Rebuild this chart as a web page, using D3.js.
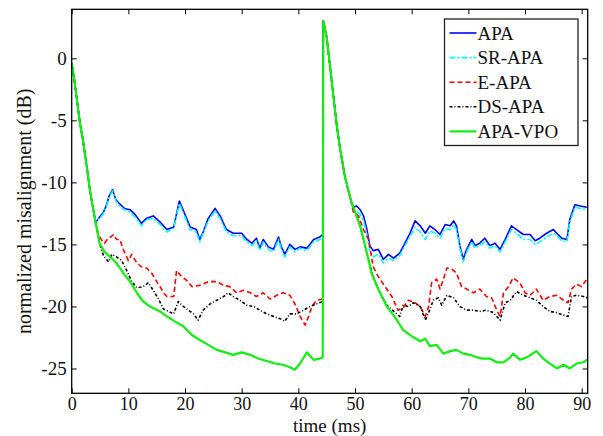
<!DOCTYPE html>
<html>
<head>
<meta charset="utf-8">
<script src="https://cdn.jsdelivr.net/npm/d3@7"></script>
<style>
  body { margin: 0; background: #fff; }
  svg text { font-family: "Liberation Serif", "Times New Roman", serif; fill: #111; }
</style>
</head>
<body>
<div id="chart"></div>
<script>
// shared pieces: every algorithm starts (and restarts after the echo-path change) the same way
const headPts = [[0,-0.4],[0.45,-1.7],[1.05,-3.8],[1.45,-5.2],[1.95,-6.5],[2.4,-7.9],[2.8,-9.2],[3.2,-10.6],[3.7,-11.9],[4.2,-13.2]];
const restartPts = [[44.4,3.0],[45.0,1.7],[45.6,-0.7],[46.2,-3.1],[46.8,-5.5],[47.4,-7.4],[48.2,-9.5],[48.8,-10.6],[49.3,-11.5]];

const apaA = [[4.3,-13.2],[4.9,-12.8],[5.5,-12.5],[6.1,-11.9],[6.6,-11.1],[7.2,-10.6],[7.8,-11.4],[8.4,-11.7],[9.3,-12.1],[10.3,-12.2],[11.2,-12.6],[12.3,-13.3],[13.2,-12.9],[14.4,-12.7],[15.6,-13.2],[16.8,-13.8],[18.0,-13.6],[19.0,-11.5],[20.0,-12.6],[20.9,-13.6],[22.0,-13.8],[22.6,-14.6],[23.2,-14.0],[24.1,-12.9],[25.3,-12.1],[26.2,-12.7],[27.3,-13.8],[28.5,-14.1],[30.0,-14.1],[30.9,-14.6],[31.8,-14.9],[32.6,-14.5],[33.2,-15.3],[33.8,-14.6],[34.7,-15.2],[35.6,-15.4],[36.5,-14.4],[37.0,-15.2],[37.6,-15.8],[38.5,-15.0],[39.4,-15.4],[40.3,-15.2],[41.5,-15.3],[42.7,-14.6],[43.8,-14.4],[44.3,-14.2]];
const apaB = [[49.7,-12.0],[50.3,-11.9],[50.9,-12.2],[51.5,-12.7],[52.1,-13.8],[52.6,-15.1],[53.2,-15.5],[54.1,-15.4],[55.0,-16.2],[55.9,-15.8],[56.8,-16.1],[57.9,-15.7],[58.8,-14.9],[59.7,-14.1],[60.6,-13.1],[61.5,-13.5],[62.4,-14.1],[63.2,-13.5],[64.1,-13.8],[65.0,-14.2],[65.9,-13.4],[66.8,-13.5],[67.4,-13.1],[67.9,-13.5],[68.5,-15.1],[69.1,-16.2],[69.7,-15.4],[70.6,-14.6],[71.2,-15.1],[72.0,-14.9],[72.9,-14.5],[73.8,-15.1],[74.7,-14.9],[75.6,-15.4],[76.5,-14.6],[77.6,-13.5],[78.5,-13.8],[79.7,-14.2],[80.9,-14.2],[81.8,-14.7],[82.6,-14.5],[83.8,-14.1],[85.0,-13.8],[85.6,-14.1],[86.5,-14.5],[87.4,-14.6],[87.9,-13.0],[88.8,-11.8],[89.7,-11.9],[90.9,-12.0]];

const srA = [[4.3,-13.2],[4.9,-12.9],[5.5,-12.6],[6.1,-12.0],[6.6,-11.2],[7.2,-10.7],[7.8,-11.5],[8.4,-11.9],[9.3,-12.2],[10.3,-12.4],[11.2,-12.8],[12.3,-13.5],[13.2,-13.0],[14.4,-12.9],[15.6,-13.4],[16.8,-14.0],[18.0,-13.7],[19.0,-11.7],[20.0,-12.8],[20.9,-13.8],[22.0,-14.0],[22.6,-14.8],[23.2,-14.1],[24.1,-13.1],[25.3,-12.3],[26.2,-12.9],[27.3,-14.0],[28.5,-14.3],[30.0,-14.3],[30.9,-14.8],[31.8,-15.1],[32.6,-14.7],[33.2,-15.5],[33.8,-14.8],[34.7,-15.4],[35.6,-15.6],[36.5,-14.6],[37.0,-15.4],[37.6,-16.0],[38.5,-15.2],[39.4,-15.6],[40.3,-15.3],[41.5,-15.5],[42.7,-14.8],[43.8,-14.6],[44.3,-14.4]];
const srB = [[49.7,-12.2],[50.3,-12.3],[50.9,-12.6],[51.5,-13.1],[52.1,-14.2],[52.6,-15.5],[53.2,-16.0],[54.1,-15.8],[55.0,-16.5],[55.9,-16.1],[56.8,-16.3],[57.9,-15.9],[58.8,-15.1],[59.7,-14.4],[60.6,-13.6],[61.5,-14.0],[62.4,-14.6],[63.2,-13.9],[64.1,-14.1],[65.0,-14.5],[65.9,-13.7],[66.8,-13.8],[67.4,-13.4],[67.9,-13.8],[68.5,-15.3],[69.1,-16.4],[69.7,-15.6],[70.6,-14.8],[71.2,-15.3],[72.0,-15.1],[72.9,-14.8],[73.8,-15.3],[74.7,-15.1],[75.6,-15.6],[76.5,-14.8],[77.6,-13.8],[78.5,-14.1],[79.7,-14.6],[80.9,-14.6],[81.8,-15.0],[82.6,-14.8],[83.8,-14.4],[85.0,-14.1],[85.6,-14.3],[86.5,-14.7],[87.4,-14.8],[87.9,-13.2],[88.8,-12.0],[89.7,-12.1],[90.9,-12.2]];

const eapaA = [[4.3,-13.3],[4.6,-14.1],[5.2,-14.6],[5.8,-14.9],[6.4,-14.5],[6.9,-14.4],[7.4,-14.2],[7.9,-14.6],[8.5,-14.6],[9.1,-15.4],[10.0,-16.3],[10.6,-15.8],[11.5,-16.5],[12.3,-16.8],[13.2,-16.9],[14.1,-17.3],[15.0,-18.0],[15.6,-18.4],[16.2,-18.9],[16.8,-19.2],[18.0,-19.2],[18.5,-17.1],[19.4,-17.6],[20.3,-17.9],[21.2,-18.4],[22.6,-18.3],[24.1,-18.0],[25.6,-18.0],[26.8,-18.3],[27.9,-18.4],[29.1,-18.9],[30.3,-18.7],[31.5,-18.9],[32.6,-19.2],[33.8,-18.9],[35.0,-19.4],[36.2,-19.1],[37.3,-18.9],[38.5,-19.1],[39.4,-19.8],[40.3,-20.8],[41.2,-21.5],[41.8,-20.8],[42.4,-20.0],[43.2,-19.5],[44.3,-19.4]];
const eapaB = [[49.7,-12.4],[50.6,-12.7],[51.5,-13.8],[52.4,-14.6],[53.2,-16.8],[54.1,-17.6],[55.3,-18.4],[56.5,-19.2],[57.6,-20.3],[58.5,-20.1],[59.4,-19.5],[60.6,-19.7],[61.5,-20.0],[62.4,-20.8],[63.0,-20.0],[63.5,-18.1],[64.4,-17.8],[65.0,-18.6],[65.6,-17.8],[66.2,-16.9],[67.1,-17.0],[67.9,-17.3],[68.8,-18.4],[69.7,-18.6],[70.9,-18.9],[72.0,-18.6],[73.2,-19.2],[74.1,-19.3],[75.0,-20.3],[75.6,-20.8],[76.2,-18.9],[77.1,-18.4],[77.9,-17.7],[79.1,-18.1],[80.0,-18.9],[80.9,-19.1],[82.0,-18.6],[83.2,-19.5],[84.4,-19.2],[85.6,-19.1],[86.8,-19.5],[87.6,-19.7],[88.2,-18.6],[89.1,-18.2],[90.0,-18.4],[90.9,-17.8]];

const dsA = [[4.3,-13.3],[4.9,-14.9],[5.6,-15.9],[6.5,-16.4],[7.1,-15.8],[7.9,-16.0],[8.8,-16.3],[9.7,-17.1],[10.6,-18.0],[11.5,-18.5],[12.6,-18.4],[13.5,-18.1],[14.4,-18.7],[15.3,-19.4],[16.2,-20.2],[17.1,-20.4],[18.0,-20.6],[18.8,-19.6],[19.7,-20.0],[20.6,-20.3],[21.5,-20.6],[22.3,-21.1],[23.2,-20.3],[24.4,-19.8],[25.6,-19.5],[26.8,-19.2],[27.6,-18.9],[28.5,-19.2],[29.7,-19.5],[30.9,-19.9],[32.1,-20.0],[33.2,-20.3],[34.4,-20.6],[35.6,-20.8],[36.8,-21.0],[37.6,-21.2],[38.5,-20.6],[39.7,-20.6],[40.9,-20.3],[42.1,-20.0],[43.2,-19.8],[44.3,-19.6]];
const dsB = [[49.7,-12.0],[50.9,-13.5],[52.1,-15.7],[53.2,-17.6],[54.4,-18.9],[55.6,-19.9],[57.1,-20.5],[57.9,-20.8],[58.5,-19.9],[59.4,-20.0],[60.3,-19.7],[61.5,-20.0],[62.4,-21.1],[63.0,-20.5],[63.8,-19.5],[64.7,-19.3],[65.3,-19.9],[66.2,-19.1],[67.4,-19.3],[68.5,-20.0],[69.7,-20.3],[70.9,-20.3],[72.0,-20.4],[73.2,-20.3],[74.4,-20.5],[75.6,-21.1],[76.5,-19.7],[77.4,-19.5],[78.5,-18.8],[79.7,-19.1],[80.9,-19.3],[82.0,-19.5],[83.2,-20.0],[84.4,-20.4],[85.6,-20.5],[86.8,-20.7],[87.6,-20.8],[88.2,-19.2],[89.1,-19.1],[90.3,-19.2],[91.0,-19.3]];

const vpoA = [[4.6,-14.1],[4.9,-14.9],[5.8,-15.6],[6.8,-16.0],[7.9,-16.5],[9.1,-17.3],[10.3,-18.0],[11.5,-18.9],[12.6,-19.6],[13.8,-20.0],[15.6,-20.4],[16.8,-20.8],[18.2,-21.2],[19.7,-21.6],[21.2,-22.3],[22.6,-22.7],[24.1,-23.1],[25.6,-23.5],[27.1,-23.7],[28.5,-23.9],[30.0,-23.7],[31.5,-23.9],[32.9,-24.2],[34.4,-24.4],[35.9,-24.6],[37.3,-24.7],[38.5,-24.9],[39.4,-25.1],[40.3,-24.6],[41.5,-23.7],[42.7,-24.3],[43.8,-24.2],[44.3,-24.1]];
const vpoB = [[49.7,-12.0],[50.9,-13.5],[52.1,-15.7],[52.9,-17.3],[54.1,-18.6],[55.6,-20.0],[57.1,-20.9],[58.5,-21.9],[60.0,-22.4],[61.5,-22.8],[62.4,-22.6],[63.2,-23.2],[64.4,-23.1],[65.6,-23.8],[66.8,-23.6],[67.9,-23.5],[69.1,-23.8],[70.3,-23.9],[71.5,-24.1],[72.6,-24.2],[73.8,-24.2],[75.0,-24.5],[76.2,-24.5],[77.4,-24.1],[77.9,-23.8],[79.1,-24.3],[80.3,-24.1],[82.0,-23.6],[83.2,-24.2],[84.4,-24.6],[85.6,-25.0],[86.8,-24.7],[87.9,-25.0],[89.1,-24.6],[90.3,-24.5],[91.0,-24.3]];

const seriesNames = ["APA", "SR-APA", "E-APA", "DS-APA", "APA-VPO"];
const seriesColors = ["#0000ff", "#00ffff", "#ff0000", "#000000", "#11ee11"];
const seriesDash = [null, "6,2,2,2", "5,3", "3,2,1,2", null];
const xTicks = [0, 10, 20, 30, 40, 50, 60, 70, 80, 90];
const yTicks = [0, -5, -10, -15, -20, -25];

const W = 603, H = 436;
const margin = {left: 71.7, right: 603 - 587.7, top: 9.3, bottom: 436 - 393.3};

const x = d3.scaleLinear().domain([0, 91.06]).range([margin.left, W - margin.right]);
const y = d3.scaleLinear().domain([-27, 3.95]).range([H - margin.bottom, margin.top]);

const svg = d3.select('#chart').append('svg')
    .attr('width', W)
    .attr('height', H);

svg.append('rect').attr('width', W).attr('height', H).attr('fill', '#fff');

const plainFmt = d => String(d);   // keep the ASCII hyphen for negatives

// axes with inward ticks, MATLAB box style
const axB = svg.append('g')
    .attr('transform', `translate(0,${y.range()[0]})`)
    .call(d3.axisBottom(x).tickValues(xTicks).tickFormat(plainFmt).tickSizeInner(-5).tickSizeOuter(0).tickPadding(4));
svg.append('g')
    .attr('transform', `translate(${x.range()[0]},0)`)
    .call(d3.axisLeft(y).tickValues(yTicks).tickFormat(plainFmt).tickSizeInner(-5).tickSizeOuter(0).tickPadding(5));
svg.append('g')
    .attr('transform', `translate(0,${y.range()[1]})`)
    .call(d3.axisTop(x).tickValues(xTicks).tickSizeInner(-5).tickSizeOuter(0).tickFormat(''));
svg.append('g')
    .attr('transform', `translate(${x.range()[1]},0)`)
    .call(d3.axisRight(y).tickValues(yTicks).tickSizeInner(-5).tickSizeOuter(0).tickFormat(''));

svg.selectAll('.domain').remove();
svg.selectAll('.tick line').attr('stroke', '#000');
svg.selectAll('.tick text').attr('font-size', '19px').attr('fill', '#111')
    .style('font-family', '"Liberation Serif", serif');
axB.selectAll('.tick text').attr('font-size', '18px');

const lineGen = d3.line().x(d => x(d[0])).y(d => y(d[1]));

svg.append('defs').append('clipPath').attr('id', 'clip')
    .append('rect')
    .attr('x', x.range()[0]).attr('y', y.range()[1])
    .attr('width', x.range()[1] - x.range()[0])
    .attr('height', y.range()[0] - y.range()[1]);

const bodies = [[apaA, apaB], [srA, srB], [eapaA, eapaB], [dsA, dsB], [vpoA, vpoB]];
const seriesData = bodies.map(b => headPts.concat(b[0], restartPts, b[1]));

svg.append('g').attr('clip-path', 'url(#clip)')
    .selectAll('path')
    .data(seriesData)
    .enter()
    .append('path')
    .attr('d', lineGen)
    .attr('fill', 'none')
    .attr('stroke', (d, i) => seriesColors[i])
    .attr('stroke-width', (d, i) => i === 4 ? 2.2 : 1.6)
    .attr('stroke-dasharray', (d, i) => seriesDash[i])
    .attr('stroke-linejoin', 'round');

// frame
svg.append('rect')
    .attr('x', x.range()[0]).attr('y', y.range()[1])
    .attr('width', x.range()[1] - x.range()[0])
    .attr('height', y.range()[0] - y.range()[1])
    .attr('fill', 'none')
    .attr('stroke', '#000')
    .attr('stroke-width', 1.3);

// axis titles
svg.append('text')
    .attr('x', (x.range()[0] + x.range()[1]) / 2)
    .attr('y', 431.5)
    .attr('text-anchor', 'middle')
    .attr('font-size', '19px')
    .text('time (ms)');

svg.append('text')
    .attr('transform', `translate(31,${(y.range()[0] + y.range()[1]) / 2 + 10}) rotate(-90)`)
    .attr('text-anchor', 'middle')
    .attr('font-size', '20px')
    .text('normalized misalignment (dB)');

// legend
const lg = svg.append('g').attr('transform', 'translate(444.5,19)');
lg.append('rect')
    .attr('width', 133.5).attr('height', 126.5)
    .attr('fill', '#fff')
    .attr('stroke', '#222')
    .attr('stroke-width', 1.3);

const rows = lg.selectAll('g.row')
    .data(seriesNames)
    .enter()
    .append('g')
    .attr('class', 'row')
    .attr('transform', (d, i) => `translate(0,${14 + i * 24.6})`);

rows.append('line')
    .attr('x1', 5).attr('x2', 32)
    .attr('stroke', (d, i) => seriesColors[i])
    .attr('stroke-width', (d, i) => i === 4 ? 2.2 : 1.6)
    .attr('stroke-dasharray', (d, i) => seriesDash[i]);

rows.append('text')
    .attr('x', 33)
    .attr('y', 6.5)
    .attr('font-size', '19px')
    .text(d => d);
</script>
</body>
</html>
